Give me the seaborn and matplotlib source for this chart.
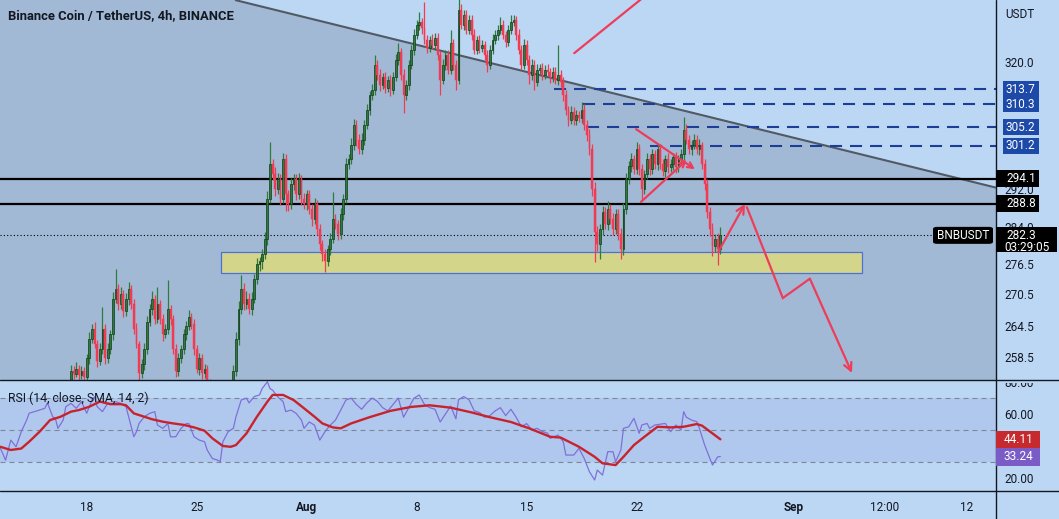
import numpy as np
import pandas as pd
import matplotlib
matplotlib.use("Agg")
import matplotlib.pyplot as plt
import matplotlib.dates as mdates
from matplotlib.patches import Rectangle, FancyBboxPatch, Polygon
from matplotlib.lines import Line2D
from matplotlib.ticker import FixedLocator, NullLocator, FuncFormatter
import seaborn as sns

# ---------------------------------------------------------------- data
title = "Binance Coin / TetherUS, 4h, BINANCE"
candle_start = "2022-07-12 12:00"
first_open = 250.0

closes = [
    250.2, 249.0, 248.3, 249.2, 250.0, 249.6, 250.3, 250.8, 250.5, 251.2, 251.6, 251.3,
    251.9, 252.3, 252.0, 252.6, 252.4, 252.9, 253.2, 252.6, 252.0, 251.6, 251.2, 251.8,
    252.4, 253.0, 253.6, 256.0, 255.4, 256.4, 255.2, 256.0, 254.9, 258.3, 262.0, 263.9,
    261.0, 257.9, 260.1, 263.9, 258.3, 260.1, 262.9, 269.7, 271.6, 268.7, 270.6, 267.3,
    269.7, 271.6, 268.7, 263.9, 261.0, 255.5, 257.3, 260.1, 265.2, 267.7, 269.7, 265.8,
    268.7, 265.8, 262.9, 263.9, 267.7, 265.8, 260.1, 256.0, 258.3, 260.1, 262.9, 264.4,
    266.2, 264.8, 260.1, 256.4, 258.3, 255.5, 256.4, 253.7, 252.5, 251.0, 250.2, 249.5,
    250.4, 251.2, 250.6, 251.8, 252.8, 256.0, 262.0, 267.7, 271.6, 268.7, 269.7, 267.7,
    269.7, 273.6, 276.5, 277.1, 278.5, 281.6, 289.8, 297.2, 295.0, 291.9, 294.0, 289.8,
    298.2, 290.8, 288.7, 292.9, 294.0, 290.8, 294.0, 289.8, 288.7, 290.8, 287.7, 285.6,
    288.7, 283.6, 280.5, 278.5, 277.1, 279.5, 281.6, 285.6, 284.6, 282.6, 286.7, 289.8,
    297.2, 298.2, 301.4, 305.8, 302.5, 300.4, 302.5, 305.8, 309.1, 312.4, 313.6, 319.3,
    317.0, 314.7, 316.4, 314.1, 315.9, 313.6, 316.4, 320.5, 322.3, 317.0, 312.4, 314.7,
    319.3, 322.8, 326.3, 328.6, 329.3, 327.9, 325.1, 323.3, 325.1, 324.0, 325.6, 321.6,
    315.9, 319.3, 321.6, 318.2, 324.4, 319.3, 315.9, 332.3, 328.6, 331.1, 327.5, 329.8,
    326.3, 322.8, 325.1, 323.3, 324.0, 321.6, 319.3, 322.8, 325.1, 326.3, 327.5, 328.6,
    326.3, 324.6, 327.5, 329.3, 329.8, 326.3, 322.8, 319.3, 324.0, 320.5, 317.0, 319.3,
    315.4, 318.2, 318.6, 317.0, 318.2, 317.7, 316.4, 317.7, 315.9, 317.0, 315.4, 312.4,
    309.1, 306.9, 308.7, 306.9, 308.0, 307.3, 309.1, 305.8, 303.6, 300.4, 291.9, 283.0,
    280.5, 283.6, 287.1, 284.6, 287.7, 285.6, 283.6, 286.7, 282.6, 279.5, 287.7, 294.0,
    296.7, 298.2, 296.1, 300.4, 296.1, 291.9, 295.0, 298.2, 296.1, 299.3, 297.2, 300.4,
    297.2, 295.7, 298.2, 296.5, 297.2, 298.7, 296.5, 298.2, 299.3, 304.7, 302.5, 300.4,
    301.4, 302.5, 300.4, 301.4, 297.2, 292.9, 287.1, 283.6, 280.1, 281.6, 279.5, 282.3,
]

wick_up = [
    0.6, 0.9, 0.5, 0.8, 0.7, 1.0, 0.6, 0.5, 0.9, 0.7, 0.6, 0.8,
    0.5, 0.9, 0.7, 0.6, 1.0, 0.5, 0.8, 0.6, 0.7, 0.9, 0.5, 0.6,
    0.8, 0.7, 0.6, 1.1, 0.9, 1.3, 0.6, 0.8, 0.7, 0.9, 1.3, 0.8,
    1.2, 0.7, 1.0, 4.2, 0.9, 1.1, 0.8, 1.2, 4.0, 0.9, 1.3, 0.8,
    1.0, 1.4, 0.7, 0.9, 1.1, 0.6, 0.8, 1.0, 1.2, 0.9, 1.5, 0.7,
    3.3, 0.8, 1.0, 0.9, 5.6, 0.8, 0.7, 0.9, 1.1, 0.8, 1.0, 0.9,
    1.3, 0.8, 0.9, 0.7, 1.0, 0.8, 0.9, 0.6, 0.7, 0.8, 0.6, 0.9,
    0.7, 0.8, 0.6, 0.9, 0.7, 1.0, 1.2, 1.5, 2.8, 1.1, 1.4, 1.0,
    1.2, 1.0, 1.3, 0.9, 1.1, 1.4, 1.6, 4.8, 1.2, 1.5, 1.3, 1.0,
    1.5, 1.2, 0.9, 1.4, 1.1, 1.0, 1.3, 0.9, 1.2, 1.0, 0.8, 1.1,
    1.3, 0.9, 1.0, 0.8, 1.1, 0.9, 1.2, 5.7, 1.0, 0.9, 1.3, 1.1,
    1.4, 1.2, 1.5, 1.3, 1.0, 1.2, 1.4, 1.1, 1.3, 1.0, 1.2, 2.3,
    1.1, 1.3, 1.0, 1.2, 0.9, 1.1, 1.3, 1.2, 2.1, 1.0, 1.4, 1.1,
    1.2, 1.0, 1.3, 1.1, 2.3, 1.0, 6.1, 1.2, 1.0, 1.3, 1.1, 1.2,
    1.0, 1.3, 1.1, 1.2, 3.1, 1.0, 1.2, 4.2, 1.3, 1.1, 1.0, 1.2,
    1.1, 1.3, 1.0, 1.2, 1.1, 0.9, 1.2, 1.0, 1.3, 1.1, 1.0, 1.9,
    1.2, 1.0, 1.1, 1.8, 1.2, 1.0, 1.3, 1.1, 1.2, 1.0, 1.1, 1.3,
    1.0, 1.2, 0.9, 1.1, 1.0, 1.2, 0.9, 1.1, 1.0, 7.0, 1.2, 1.0,
    1.1, 0.9, 1.2, 1.0, 1.1, 0.9, 1.8, 1.2, 1.0, 1.3, 1.1, 1.4,
    1.2, 1.0, 1.3, 1.1, 1.7, 1.0, 1.2, 1.1, 1.0, 1.3, 1.2, 1.4,
    1.1, 1.3, 1.0, 1.6, 1.2, 1.1, 1.0, 1.3, 1.1, 1.2, 1.0, 1.0,
    1.2, 1.1, 1.0, 1.3, 1.1, 0.9, 1.2, 1.0, 1.1, 2.9, 1.2, 1.0,
    1.1, 1.3, 1.0, 1.2, 0.6, 1.0, 1.2, 1.1, 1.3, 1.0, 1.2, 1.7,
]

wick_dn = [
    0.7, 0.5, 0.9, 0.6, 0.8, 0.5, 0.7, 0.9, 0.6, 0.8, 0.5, 0.7,
    0.9, 0.6, 0.8, 0.5, 0.7, 0.6, 0.9, 0.8, 0.5, 0.7, 0.6, 0.8,
    0.6, 0.9, 0.7, 0.8, 1.0, 0.6, 0.9, 0.7, 1.1, 0.8, 1.0, 0.9,
    0.8, 1.2, 0.9, 1.0, 1.1, 0.8, 1.0, 1.2, 0.9, 1.3, 1.0, 1.1,
    0.9, 1.2, 1.0, 1.1, 0.8, 1.5, 0.9, 1.1, 1.0, 0.8, 1.2, 1.0,
    0.9, 1.1, 1.3, 0.8, 1.0, 1.2, 0.9, 1.1, 1.0, 0.8, 0.9, 1.1,
    0.8, 1.0, 1.2, 0.9, 1.1, 1.0, 0.8, 0.9, 0.7, 0.8, 0.6, 0.9,
    0.7, 0.6, 0.8, 0.7, 0.9, 0.8, 1.0, 1.2, 0.9, 1.3, 1.1, 1.0,
    1.2, 0.9, 1.1, 1.3, 1.5, 1.0, 1.2, 0.9, 1.1, 1.4, 1.0, 1.2,
    0.9, 3.5, 1.3, 1.0, 1.2, 1.1, 0.9, 1.3, 1.0, 1.2, 1.1, 1.4,
    1.0, 1.2, 1.1, 1.3, 2.1, 1.0, 1.2, 0.9, 1.1, 1.3, 1.0, 1.2,
    0.9, 1.1, 1.0, 1.2, 1.3, 1.1, 1.0, 1.2, 0.9, 1.1, 1.0, 1.2,
    1.1, 1.3, 1.0, 1.2, 1.1, 1.4, 1.0, 0.9, 1.2, 1.1, 4.0, 1.0,
    1.1, 0.9, 1.2, 1.0, 1.1, 1.3, 1.0, 1.2, 1.1, 1.0, 1.2, 1.3,
    3.5, 1.0, 1.2, 1.1, 1.0, 1.2, 2.3, 1.1, 1.0, 1.2, 1.1, 1.0,
    1.2, 1.1, 1.0, 1.3, 1.1, 1.2, 1.6, 1.0, 1.1, 0.9, 1.2, 1.0,
    1.1, 1.2, 1.0, 1.1, 0.9, 1.2, 1.1, 1.3, 1.0, 1.2, 2.0, 1.1,
    1.8, 1.0, 1.2, 1.1, 0.9, 1.0, 1.2, 1.1, 1.0, 1.2, 1.1, 1.3,
    1.2, 1.4, 1.0, 1.2, 1.1, 1.0, 1.2, 1.1, 1.3, 1.2, 1.5, 6.1,
    1.4, 3.0, 1.2, 1.1, 1.3, 1.0, 1.2, 1.1, 1.3, 2.0, 1.2, 1.1,
    1.0, 1.2, 1.1, 1.0, 1.2, 2.1, 1.1, 1.0, 1.2, 1.1, 1.0, 1.2,
    1.1, 1.0, 1.2, 1.1, 1.0, 1.2, 1.1, 1.0, 1.1, 1.2, 1.0, 1.1,
    1.2, 1.0, 1.1, 1.2, 1.0, 1.3, 1.2, 1.4, 2.0, 1.1, 3.1, 1.0,
]

# RSI (14) read at candle indices
rsi_idx = [0, 2, 4, 6, 8, 10, 11, 13, 15, 17, 18, 20, 21, 22, 24, 25, 27, 29, 31, 33,
           35, 36, 37, 39, 41, 43, 44, 46, 48, 50, 51, 52, 53, 55, 57, 59, 60, 62, 64, 65,
           67, 69, 71, 72, 74, 76, 78, 79, 81, 83, 84, 85, 87, 89, 90, 92, 94, 95, 97, 99,
           100, 102, 103, 104, 106, 108, 109, 111, 113, 115, 116, 118, 120, 122, 124, 126, 128, 130, 132, 134,
           136, 138, 140, 142, 144, 146, 148, 150, 152, 154, 156, 158, 160, 162, 164, 166, 168, 170, 172, 174,
           175, 177, 179, 181, 183, 185, 187, 189, 191, 193, 195, 197, 199, 201, 203, 205, 207, 209,
           210, 213, 215, 216, 219, 221, 223, 225, 227, 228, 230, 232, 234, 235, 237, 238, 240, 242, 244, 245,
           247, 248, 250, 254, 256, 258, 260, 261, 262, 264, 266, 267, 269, 271, 272, 274, 275]
rsi_val = [38.6, 31.0, 43.6, 39.4, 48.9, 56.0, 60.5, 61.5, 62.5, 63.6, 67.0, 58.3, 57.3, 51.0, 56.2, 64.6, 66.7, 63.6, 67.8, 60.5,
           68.8, 71.0, 64.6, 61.5, 66.7, 66.7, 67.8, 66.7, 64.6, 52.0, 45.7, 48.9, 54.1, 58.3, 60.4, 61.5, 53.1, 51.0, 54.0, 45.7,
           45.7, 51.0, 54.0, 54.0, 45.7, 43.6, 42.6, 37.4, 32.0, 31.0, 30.0, 42.6, 48.9, 51.0, 58.3, 68.8, 70.0, 67.0, 71.0, 72.0,
           76.0, 80.3, 76.0, 75.0, 70.7, 67.8, 61.5, 62.5, 60.4, 56.2, 51.0, 55.0, 53.0, 43.6, 48.9, 53.0, 56.2, 62.5, 68.8, 70.0,
           66.0, 63.0, 67.0, 70.0, 68.0, 64.0, 62.0, 66.0, 70.0, 58.0, 64.0, 70.0, 72.0, 66.0, 64.0, 63.0, 55.0, 60.0, 65.0, 57.0,
           69.0, 71.0, 69.0, 62.0, 61.0, 58.0, 59.0, 62.0, 64.0, 59.0, 63.0, 58.0, 52.0, 54.0, 50.0, 51.0, 49.0, 48.0,
           44.7, 46.8, 42.6, 34.2, 34.2, 38.4, 32.1, 23.7, 18.5, 24.8, 21.6, 36.3, 36.3, 30.0, 37.4, 51.0, 52.0, 57.3, 47.9, 53.1,
           54.1, 51.0, 53.1, 54.1, 48.9, 53.1, 50.0, 61.5, 58.0, 56.2, 55.2, 51.0, 40.5, 32.1, 27.9, 33.1, 33.24]

# RSI-based moving average (SMA 14)
sma_idx = [0, 4, 8, 11, 15, 19, 23, 27, 30, 34, 38, 42, 46, 48, 51, 55, 58, 62, 66, 70,
           74, 78, 81, 85, 88, 90, 94, 98, 102, 104, 108, 112, 116, 120, 123, 127, 130, 134, 141, 149,
           157, 164, 172, 180, 187, 195, 202, 210, 214, 221, 227, 230, 235, 238, 242, 246, 251, 256, 261, 266,
           268, 272, 275]
sma_val = [39.4, 37.4, 38.3, 42.6, 48.9, 56.2, 58.3, 61.5, 62.5, 64.6, 67.8, 66.2, 66.2, 65.5, 60.4, 58.3, 56.7, 55.2, 54.1, 53.2,
           51.6, 49.5, 44.7, 39.9, 39.4, 40.5, 47.8, 58.3, 67.8, 72.0, 72.0, 68.8, 63.6, 58.3, 54.1, 51.6, 51.0, 54.1, 58.0, 62.0,
           64.5, 65.5, 64.0, 61.0, 58.0, 55.0, 51.0, 45.7, 45.2, 39.4, 33.1, 29.0, 27.9, 33.1, 40.5, 45.7, 52.0, 51.6, 52.0, 53.7,
           52.7, 47.8, 44.11]

rsi_last, sma_last = 33.24, 44.11
last_price = 282.3
countdown = "03:29:05"

res_levels = [313.7, 310.3, 305.2, 301.2]
res_starts = ["2022-08-16 18:00", "2022-08-18 14:10", "2022-08-18 20:25", "2022-08-22 20:40"]
key_levels = [294.1, 288.8]
zone_prices = [274.8, 278.9]
zone_dates = ["2022-07-26 12:40", "2022-09-05 08:50"]
trend_dates = ["2022-07-27 10:34", "2022-09-13 21:07"]
trend_prices = [334.6, 292.2]
line_a_dates = ["2022-08-18 00:45", "2022-08-23 11:45"]
line_a_prices = [322.0, 338.5]
up_dates = ["2022-08-27 04:34", "2022-08-28 21:36"]
up_prices = [278.9, 288.8]
zig_dates = ["2022-08-29 00:29", "2022-08-31 07:26", "2022-09-02 00:43", "2022-09-04 17:02"]
zig_prices = [288.1, 269.8, 273.6, 255.6]
pen_up_dates = ["2022-08-21 23:17", "2022-08-25 17:17"]
pen_up_prices = [304.8, 296.1]
pen_lo_dates = ["2022-08-22 06:43", "2022-08-25 04:48"]
pen_lo_prices = [289.2, 298.1]

price_ticks = [320.0, 292.0, 284.0, 276.5, 270.5, 264.5, 258.5]
rsi_ticks = [80, 60, 20]
x_tick_dates = ["2022-07-18", "2022-07-25", "2022-08-01", "2022-08-08", "2022-08-15",
                "2022-08-22", "2022-09-01", "2022-09-06 19:00", "2022-09-12"]
x_tick_labels = ["18", "25", "Aug", "8", "15", "22", "Sep", "12:00", "12"]
x_range = ["2022-07-12 11:30", "2022-09-13 21:07"]

# ---------------------------------------------------------------- style
sns.set_style("white")
plt.rcParams["font.family"] = ["Roboto", "DejaVu Sans"]

BG = "#bcd7f4"
SHADE = "#a2b9d5"
BAND = "#b0c8ee"
TXT = "#131722"
UP, UP_EDGE, DN = "#2e7b3c", "#123a1b", "#f23a52"
DRAW_RED = "#ee3d5b"
NAVY = "#1c3e96"
BOX_BLUE = "#1d4aa8"
PURPLE, SMA_RED = "#7f70d8", "#c8232c"

W, H = 1059, 519
fig = plt.figure(figsize=(W / 100, H / 100), dpi=100)
fig.patch.set_facecolor(BG)
axp = fig.add_axes([0, 1 - 380 / H, 996 / W, 380 / H])
axr = fig.add_axes([0, 1 - 491 / H, 996 / W, 111 / H])

def dn(s):
    return mdates.date2num(pd.Timestamp(s).to_pydatetime())

x0, x1 = dn(x_range[0]), dn(x_range[1])
PLO, PHI = 254.3, 334.6
RLO, RHI = 11.6, 81.4

for ax in (axp, axr):
    ax.set_facecolor(BG)
    for s in ax.spines.values():
        s.set_visible(False)
    ax.set_xlim(x0, x1)
    ax.grid(False)

# ---------------------------------------------------------------- price panel
axp.set_yscale("log")
axp.set_ylim(PLO, PHI)
axp.yaxis.set_major_locator(FixedLocator(price_ticks))
axp.yaxis.set_minor_locator(NullLocator())
axp.yaxis.set_major_formatter(FuncFormatter(lambda v, p: f"{v:.1f}"))
axp.yaxis.tick_right()
axp.tick_params(axis="y", length=0, pad=6, labelsize=8.5, labelcolor=TXT)
axp.set_xticks([])

td = [dn(d) for d in trend_dates]
shade = Polygon([(x0, PHI), (td[0], trend_prices[0]), (td[1], trend_prices[1]),
                 (x1, trend_prices[1]), (x1, PLO), (x0, PLO)],
                closed=True, facecolor=SHADE, edgecolor="none", zorder=0)
axp.add_patch(shade)
axp.plot(td, trend_prices, color="#515a64", lw=1.5, zorder=2, solid_capstyle="butt")

# support zone
zd = [dn(d) for d in zone_dates]
axp.add_patch(Rectangle((zd[0], zone_prices[0]), zd[1] - zd[0], zone_prices[1] - zone_prices[0],
                        facecolor="#d3d68a", edgecolor="#4d6fd6", lw=0.9, zorder=1))

# key levels
for lv in key_levels:
    axp.axhline(lv, color="black", lw=1.6, zorder=2)
for lv, sd in zip(res_levels, res_starts):
    axp.plot([dn(sd), x1], [lv, lv], color=NAVY, lw=1.5, dashes=(5.8, 3.8), zorder=2)
axp.plot([x0, dn("2022-09-09 19:30")], [last_price, last_price], color="black", lw=0.8,
         dashes=(1.0, 2.0), zorder=2)

# candles
times = pd.date_range(candle_start, periods=len(closes), freq="4h")
xt = mdates.date2num(times.to_pydatetime())
c = np.array(closes)
o = np.r_[first_open, c[:-1]]
hi = np.maximum(o, c) + np.array(wick_up)
lo = np.minimum(o, c) - np.array(wick_dn)
up = c >= o
col = np.where(up, UP, DN)
axp.vlines(xt, lo, hi, colors=col, lw=0.9, zorder=3)
bot = np.minimum(o, c)
hgt = np.maximum(np.abs(c - o), 0.3)
axp.bar(xt[up], hgt[up], bottom=bot[up], width=0.115, color=UP, edgecolor=UP_EDGE, lw=0.5, zorder=4)
axp.bar(xt[~up], hgt[~up], bottom=bot[~up], width=0.115, color=DN, edgecolor=DN, lw=0.3, zorder=4)

# drawings
axp.plot([dn(d) for d in line_a_dates], line_a_prices, color=DRAW_RED, lw=1.6, zorder=5)
axp.annotate("", xy=(dn(up_dates[1]), up_prices[1]), xytext=(dn(up_dates[0]), up_prices[0]),
             arrowprops=dict(arrowstyle="->", color=DRAW_RED, lw=1.6, mutation_scale=14,
                             shrinkA=0, shrinkB=0), zorder=5)
zx = [dn(d) for d in zig_dates]
axp.plot(zx[:3], zig_prices[:3], color=DRAW_RED, lw=1.6, zorder=5, solid_joinstyle="miter")
axp.annotate("", xy=(zx[3], zig_prices[3]), xytext=(zx[2], zig_prices[2]),
             arrowprops=dict(arrowstyle="->", color=DRAW_RED, lw=1.6, mutation_scale=14,
                             shrinkA=0, shrinkB=0), zorder=5)
axp.annotate("", xy=(dn(pen_up_dates[1]), pen_up_prices[1]), xytext=(dn(pen_up_dates[0]), pen_up_prices[0]),
             arrowprops=dict(arrowstyle="->", color=DRAW_RED, lw=1.6, mutation_scale=10,
                             shrinkA=0, shrinkB=0), zorder=5)
axp.annotate("", xy=(dn(pen_lo_dates[1]), pen_lo_prices[1]), xytext=(dn(pen_lo_dates[0]), pen_lo_prices[0]),
             arrowprops=dict(arrowstyle="->", color=DRAW_RED, lw=1.6, mutation_scale=10,
                             shrinkA=0, shrinkB=0), zorder=5)

# ---------------------------------------------------------------- RSI panel
axr.set_ylim(RLO, RHI)
axr.axhspan(30, 70, color=BAND, lw=0, zorder=0)
for lv in (70, 50, 30):
    axr.axhline(lv, color="#7d879b", lw=0.8, dashes=(4.5, 3.6), zorder=1)
sns.lineplot(x=xt[rsi_idx], y=rsi_val, ax=axr, color=PURPLE, lw=0.9, zorder=3, legend=False)
sns.lineplot(x=xt[sma_idx], y=sma_val, ax=axr, color=SMA_RED, lw=1.7, zorder=4, legend=False)
axr.set_xlabel("")
axr.set_ylabel("")
axr.yaxis.set_major_locator(FixedLocator(rsi_ticks))
axr.yaxis.set_major_formatter(FuncFormatter(lambda v, p: f"{v:.2f}"))
axr.yaxis.tick_right()
axr.tick_params(axis="y", length=0, pad=6, labelsize=8.5, labelcolor=TXT)
axr.set_xticks([dn(d) for d in x_tick_dates])
axr.set_xticklabels(x_tick_labels)
axr.tick_params(axis="x", length=0, pad=7, labelsize=8.5, labelcolor=TXT)
for lab in axr.get_xticklabels():
    if lab.get_text() in ("Aug", "Sep"):
        lab.set_fontweight("bold")

# ---------------------------------------------------------------- frame & labels
def fx(px):
    return px / W

def fy_top(py):
    return 1 - py / H

# upper half of the RSI "80.00" label is hidden under the price pane
fig.add_artist(Rectangle((fx(997), fy_top(382.5)), fx(62), 14 / H, transform=fig.transFigure,
                         facecolor=BG, edgecolor="none", zorder=2))
for py in (380, 491):
    fig.add_artist(Line2D([0, 1], [fy_top(py)] * 2, transform=fig.transFigure, color=TXT, lw=1.0, zorder=3))
fig.add_artist(Line2D([fx(996)] * 2, [0, 1], transform=fig.transFigure, color=TXT, lw=1.0, zorder=3))

fig.text(fx(8), fy_top(16), title, fontsize=9.4, fontweight="semibold", color=TXT, va="center", ha="left")
fig.text(fx(8), fy_top(398), "RSI (14, close, SMA, 14, 2)", fontsize=8.8, color=TXT, va="center", ha="left")
fig.text(fx(1005), fy_top(14), "USDT", fontsize=8.5, color=TXT, va="center", ha="left")

def ydisp(ax, v):
    return ax.transData.transform((x0, v))[1]

def box(xa, xb, yb, yt, color, rounded=False):
    if rounded:
        p = FancyBboxPatch((fx(xa), yb / H), fx(xb - xa), (yt - yb) / H,
                           boxstyle="round,pad=0,rounding_size=0.004", transform=fig.transFigure,
                           facecolor=color, edgecolor="none", zorder=5)
    else:
        p = Rectangle((fx(xa), yb / H), fx(xb - xa), (yt - yb) / H, transform=fig.transFigure,
                      facecolor=color, edgecolor="none", zorder=5)
    fig.add_artist(p)

def label(xpx, yd, s, color="white", size=8.5):
    fig.text(fx(xpx), yd / H, s, fontsize=size, color=color, va="center", ha="left", zorder=6)

for lv in res_levels:
    yd = ydisp(axp, lv)
    box(1003, 1039, yd - 8, yd + 8, BOX_BLUE)
    label(1006, yd, f"{lv:.1f}")
for lv in key_levels:
    yd = ydisp(axp, lv)
    box(996, 1039, yd - 8.5, yd + 8.5, "black")
    label(1006, yd, f"{lv:.1f}")
yd = ydisp(axp, last_price)
box(996, 1057, yd - 17, yd + 8, "black")
label(1006, yd, f"{last_price:.1f}")
label(1004, yd - 12, countdown)
box(933, 993, yd - 8.5, yd + 8.5, "black", rounded=True)
fig.text(fx(963), yd / H, "BNBUSDT", fontsize=8.5, color="white", va="center", ha="center", zorder=6)

yd = ydisp(axr, sma_last)
box(996, 1040, yd - 8.5, yd + 8.5, "#c62a2f")
label(1004, yd, f"{sma_last:.2f}")
yd2 = ydisp(axr, rsi_last)
box(996, 1040, yd2 - 9, yd - 8.5, "#7b5cc6")
label(1004, yd2, f"{rsi_last:.2f}")

fig.savefig("out.png", dpi=100, facecolor=BG)
